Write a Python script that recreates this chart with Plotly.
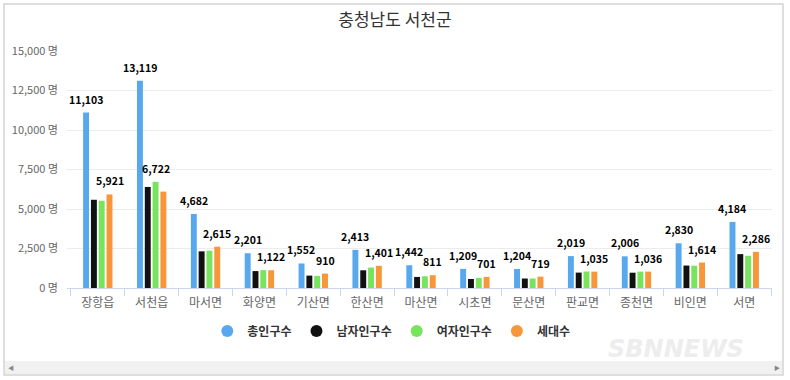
import plotly.graph_objects as go

# ---- data ----
categories = ["장항읍", "서천읍", "마서면", "화양면", "기산면", "한산면", "마산면",
              "시초면", "문산면", "판교면", "종천면", "비인면", "서면"]
total_pop = [11103, 13119, 4682, 2201, 1552, 2413, 1442, 1209, 1204, 2019, 2006, 2830, 4184]
male_pop = [5584, 6397, 2320, 1070, 785, 1120, 700, 570, 600, 975, 968, 1420, 2144]
female_pop = [5519, 6722, 2362, 1131, 767, 1293, 742, 639, 604, 1044, 1038, 1410, 2040]
households = [5921, 6100, 2615, 1122, 910, 1401, 811, 701, 719, 1035, 1036, 1614, 2286]
# which non-total series carries the second value label in each category
second_label_series = ["세대수", "여자인구수", "세대수", "세대수", "세대수", "세대수", "세대수",
                       "세대수", "세대수", "세대수", "세대수", "세대수", "세대수"]
series_names = ["총인구수", "남자인구수", "여자인구수", "세대수"]
y_tickvals = [0, 2500, 5000, 7500, 10000, 12500, 15000]
y_ticktext = [f"{v:,} 명" for v in y_tickvals]
title_text = "충청남도 서천군"
watermark = "SBNNEWS"

colors = ["#58a8ee", "#111111", "#78e35c", "#f8963a"]
FONT = "Noto Sans CJK KR, Noto Sans, sans-serif"

series_values = [total_pop, male_pop, female_pop, households]

# geometry helpers (paper coordinates relative to plot area)
L, R, T, B = 67, 18, 51, 92
W, H = 790 - L - R, 380 - T - B
BARGAP, GROUPGAP = 0.42, 0.24
def px_x(p):
    return (p - L) / W
def px_y(p):
    return (380 - B - p) / H

cat_w = W / len(categories)
slot_w = cat_w * (1 - BARGAP) / len(series_names)

fig = go.Figure()
annotations = []
for i, (name, vals, col) in enumerate(zip(series_names, series_values, colors)):
    fig.add_trace(go.Bar(
        x=categories, y=vals, name=name, marker=dict(color=col, line=dict(width=0)),
        showlegend=False, hoverinfo="x+y+name",
    ))
    # legend entry with round marker
    fig.add_trace(go.Scatter(
        x=[None], y=[None], mode="markers", name=name,
        marker=dict(color=col, size=12, symbol="circle"), showlegend=True,
    ))
    xshift = (i - (len(series_names) - 1) / 2) * slot_w
    for c, v, s in zip(categories, vals, second_label_series):
        if name == "총인구수" or s == name:
            annotations.append(dict(
                x=c, y=v, xref="x", yref="y", text=f"{v:,}", showarrow=False,
                xanchor="center", yanchor="bottom", xshift=xshift, yshift=4,
                font=dict(family=FONT, size=10.5, color="#000000", weight="bold"),
            ))

shapes = [
    dict(type="rect", xref="paper", yref="paper", x0=px_x(4), x1=px_x(783), y0=px_y(375), y1=px_y(4),
         line=dict(color="#d4d4d4", width=1.5), fillcolor="rgba(0,0,0,0)", layer="below"),
    dict(type="rect", xref="paper", yref="paper", x0=px_x(5), x1=px_x(782), y0=px_y(374), y1=px_y(361),
         line=dict(width=0), fillcolor="#f1f1f1", layer="below"),
]
annotations = [
    dict(text=f"<i><b>{watermark}</b></i>", xref="paper", yref="paper", x=px_x(676), y=px_y(349),
         xanchor="center", yanchor="middle", showarrow=False,
         font=dict(family="DejaVu Sans", size=24, color="#ededed")),
    dict(text="◀", xref="paper", yref="paper", x=px_x(11), y=px_y(367.5), showarrow=False,
         xanchor="center", yanchor="middle", font=dict(size=6, color="#888888")),
    dict(text="▶", xref="paper", yref="paper", x=px_x(777), y=px_y(367.5), showarrow=False,
         xanchor="center", yanchor="middle", font=dict(size=6, color="#888888")),
] + annotations

fig.update_layout(
    width=790, height=380,
    margin=dict(l=L, r=R, t=T, b=B, autoexpand=False),
    paper_bgcolor="white", plot_bgcolor="white",
    title=dict(text=title_text, x=0.5, xref="container", xanchor="center",
               y=1 - 20 / 380, yref="container", yanchor="middle",
               font=dict(family=FONT, size=17, color="#333333")),
    barmode="group", bargap=BARGAP, bargroupgap=GROUPGAP,
    font=dict(family=FONT),
    legend=dict(orientation="h", x=0.46, xanchor="center", y=px_y(331), yanchor="middle",
                font=dict(family=FONT, size=12, color="#333333", weight="bold"),
                bgcolor="rgba(0,0,0,0)"),
    shapes=shapes, annotations=annotations,
    showlegend=True,
)
fig.update_xaxes(
    type="category", showgrid=False, showline=True, linecolor="#ccd6eb", linewidth=1,
    ticks="outside", ticklen=7, tickcolor="#ccd6eb", tickson="boundaries",
    tickfont=dict(family=FONT, size=12, color="#666666"), ticklabelstandoff=4, fixedrange=True,
)
fig.update_yaxes(
    range=[0, 15000], tickvals=y_tickvals, ticktext=y_ticktext,
    showgrid=True, gridcolor="#ececec", gridwidth=1, zeroline=False, showline=False,
    tickfont=dict(family=FONT, size=11, color="#666666"), ticklabelstandoff=8, fixedrange=True,
)

fig.write_html("out.html", config={"displayModeBar": False},
               post_script="document.body.style.margin='0';")
